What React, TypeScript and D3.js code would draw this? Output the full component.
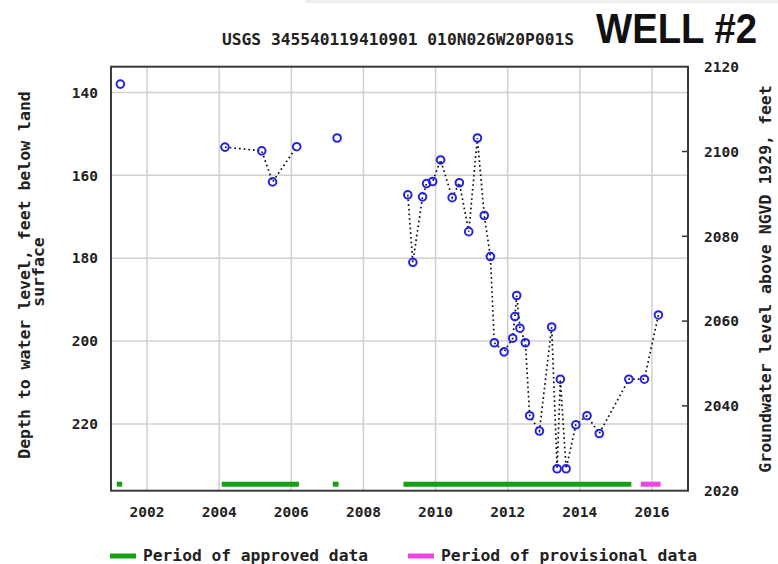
import * as d3 from "d3";
import { useEffect, useRef } from "react";

// measurement dates (decimal years) and depth below land surface (ft)
const dates = [
    2001.26, 2004.16, 2005.18, 2005.48, 2006.15, 2007.27,
    2009.23, 2009.37, 2009.64, 2009.75, 2009.92, 2010.14, 2010.46, 2010.66, 2010.92,
    2011.16, 2011.35, 2011.52, 2011.63, 2011.90, 2012.14, 2012.20, 2012.25, 2012.34,
    2012.49, 2012.61, 2012.88, 2013.22, 2013.37, 2013.46, 2013.62, 2013.89, 2014.20,
    2014.54, 2015.36, 2015.79, 2016.18,
];
const depths = [
    138.0, 153.2, 154.1, 161.6, 153.1, 151.0,
    164.7, 181.0, 165.2, 162.0, 161.5, 156.3, 165.4, 161.8, 173.6,
    151.0, 169.7, 179.6, 200.4, 202.6, 199.3, 194.1, 189.0, 196.9,
    200.4, 218.0, 221.7, 196.6, 230.8, 209.2, 230.8, 220.2, 218.0,
    222.3, 209.2, 209.2, 193.7,
];
// which connected run each measurement belongs to
const runs = [
    0, 1, 1, 1, 1, 2,
    3, 3, 3, 3, 3, 3, 3, 3, 3,
    3, 3, 3, 3, 3, 3, 3, 3, 3,
    3, 3, 3, 3, 3, 3, 3, 3, 3,
    3, 3, 3, 3,
];

const approvedStart = [2001.16, 2004.07, 2007.15, 2009.11];
const approvedEnd = [2001.31, 2006.21, 2007.31, 2015.43];
const provisionalStart = [2015.69];
const provisionalEnd = [2016.24];

const yearTicks = [2002, 2004, 2006, 2008, 2010, 2012, 2014, 2016];
const depthTicks = [140, 160, 180, 200, 220];
const elevTicks = [2020, 2040, 2060, 2080, 2100, 2120];

const mono = "'DejaVu Sans Mono', 'Liberation Mono', monospace";

const App = () => {
    const svgRef = useRef(null);

    useEffect(() => {
        const svg = d3.select(svgRef.current);
        const width = 778;
        const height = 564;
        const margin = { top: 66.7, right: 90, bottom: 73.3, left: 111 };

        svg.selectAll("*").remove();

        const x = d3.scaleLinear().domain([2001, 2017]).range([margin.left, width - margin.right]);
        const yDepth = d3.scaleLinear().domain([133.8, 236.1]).range([margin.top, height - margin.bottom]);
        const yElev = d3.scaleLinear().domain([2020, 2120]).range([height - margin.bottom, margin.top]);

        const x0 = margin.left, x1 = width - margin.right;
        const y0 = margin.top, y1 = height - margin.bottom;

        // faint strip at the top
        svg.append("rect")
            .attr("x", 305).attr("y", 0).attr("width", width - 305).attr("height", 3)
            .attr("fill", "#eeeeee");

        // grid
        svg.append("g").selectAll("line").data(yearTicks).join("line")
            .attr("x1", d => x(d)).attr("x2", d => x(d))
            .attr("y1", y0).attr("y2", y1)
            .attr("stroke", "#d0d0d0").attr("stroke-width", 1.5);
        svg.append("g").selectAll("line").data(depthTicks).join("line")
            .attr("x1", x0).attr("x2", x1)
            .attr("y1", d => yDepth(d)).attr("y2", d => yDepth(d))
            .attr("stroke", "#d0d0d0").attr("stroke-width", 1.5);

        // right axis inner ticks
        svg.append("g").selectAll("line").data(elevTicks.slice(1, -1)).join("line")
            .attr("x1", x1 - 6).attr("x2", x1)
            .attr("y1", d => yElev(d)).attr("y2", d => yElev(d))
            .attr("stroke", "#333").attr("stroke-width", 1.5);

        // frame
        svg.append("rect")
            .attr("x", x0).attr("y", y0).attr("width", x1 - x0).attr("height", y1 - y0)
            .attr("fill", "none").attr("stroke", "#3a3a3a").attr("stroke-width", 2);

        // data period bars
        const barY = y1 - 6.5;
        svg.append("g").selectAll("line").data(approvedStart).join("line")
            .attr("x1", d => x(d)).attr("x2", (d, i) => x(approvedEnd[i]))
            .attr("y1", barY).attr("y2", barY)
            .attr("stroke", "#16a016").attr("stroke-width", 5);
        svg.append("g").selectAll("line").data(provisionalStart).join("line")
            .attr("x1", d => x(d)).attr("x2", (d, i) => x(provisionalEnd[i]))
            .attr("y1", barY).attr("y2", barY)
            .attr("stroke", "#f044e0").attr("stroke-width", 5);

        // dotted connecting lines
        const points = dates.map((d, i) => ({ date: d, depth: depths[i], run: runs[i] }));
        const grouped = d3.groups(points, d => d.run).map(g => g[1]).filter(g => g.length > 1);
        const line = d3.line().x(d => x(d.date)).y(d => yDepth(d.depth));
        svg.append("g").selectAll("path").data(grouped).join("path")
            .attr("d", line)
            .attr("fill", "none")
            .attr("stroke", "#111")
            .attr("stroke-width", 1.7)
            .attr("stroke-dasharray", "1.7,3");

        // markers
        svg.append("g").selectAll("circle").data(points).join("circle")
            .attr("cx", d => x(d.date)).attr("cy", d => yDepth(d.depth))
            .attr("r", 3.8)
            .attr("fill", "none")
            .attr("stroke", "#2424e0")
            .attr("stroke-width", 2);

        // left tick labels
        svg.append("g").selectAll("text").data(depthTicks).join("text")
            .attr("x", 98).attr("y", d => yDepth(d))
            .attr("dy", "0.36em")
            .attr("text-anchor", "end")
            .style("font-family", mono).style("font-weight", "bold").style("font-size", "14.5px")
            .attr("fill", "#222")
            .text(d => d);

        // right tick labels
        svg.append("g").selectAll("text").data(elevTicks).join("text")
            .attr("x", 704).attr("y", d => yElev(d))
            .attr("dy", "0.36em")
            .style("font-family", mono).style("font-weight", "bold").style("font-size", "14.5px")
            .attr("fill", "#222")
            .text(d => d);

        // bottom tick labels
        svg.append("g").selectAll("text").data(yearTicks).join("text")
            .attr("x", d => x(d)).attr("y", 517)
            .attr("text-anchor", "middle")
            .style("font-family", mono).style("font-weight", "bold").style("font-size", "14.5px")
            .attr("fill", "#222")
            .text(d => d);

        // axis titles
        svg.append("text")
            .attr("transform", `translate(30, 275) rotate(-90)`)
            .attr("text-anchor", "middle")
            .style("font-family", mono).style("font-weight", "bold").style("font-size", "16.5px")
            .attr("fill", "#222")
            .text("Depth to water level, feet below land");
        svg.append("text")
            .attr("transform", `translate(44, 272) rotate(-90)`)
            .attr("text-anchor", "middle")
            .style("font-family", mono).style("font-weight", "bold").style("font-size", "16.5px")
            .attr("fill", "#222")
            .text("surface");
        svg.append("text")
            .attr("transform", `translate(771, 279) rotate(-90)`)
            .attr("text-anchor", "middle")
            .style("font-family", mono).style("font-weight", "bold").style("font-size", "16.5px")
            .attr("fill", "#222")
            .text("Groundwater level above NGVD 1929, feet");

        // title
        svg.append("text")
            .attr("x", 222).attr("y", 45)
            .attr("textLength", 352).attr("lengthAdjust", "spacingAndGlyphs")
            .style("font-family", mono).style("font-weight", "bold").style("font-size", "16px")
            .attr("fill", "#222")
            .text("USGS 345540119410901 010N026W20P001S");
        svg.append("text")
            .attr("x", 596).attr("y", 43)
            .attr("textLength", 161).attr("lengthAdjust", "spacingAndGlyphs")
            .style("font-family", "'Liberation Sans Narrow', 'Liberation Sans', Arial, sans-serif")
            .style("font-weight", "bold").style("font-size", "42px")
            .attr("fill", "#111")
            .text("WELL #2");

        // legend
        const legend = [
            { label: "Period of approved data", color: "#16a016", x: 110, w: 225 },
            { label: "Period of provisional data", color: "#f044e0", x: 408, w: 256 },
        ];
        const lg = svg.append("g").selectAll("g").data(legend).join("g");
        lg.append("line")
            .attr("x1", d => d.x).attr("x2", d => d.x + 26)
            .attr("y1", 556).attr("y2", 556)
            .attr("stroke", d => d.color).attr("stroke-width", 5);
        lg.append("text")
            .attr("x", d => d.x + 33).attr("y", 561)
            .attr("textLength", d => d.w).attr("lengthAdjust", "spacingAndGlyphs")
            .style("font-family", mono).style("font-weight", "bold").style("font-size", "16px")
            .attr("fill", "#222")
            .text(d => d.label);
    }, []);

    return <svg ref={svgRef} width={778} height={564} style={{ position: "absolute", left: 0, top: 0 }} />;
};

export default App;
